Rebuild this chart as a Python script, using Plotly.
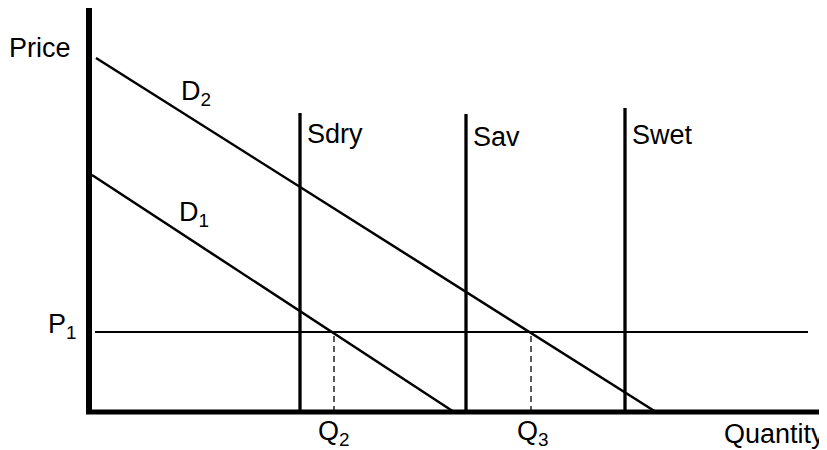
import plotly.graph_objects as go

# Conceptual supply/demand diagram (units: quantity on x, price on y)
d1_q = [3, 365]
d1_p = [237, 0]
d2_q = [7, 567]
d2_p = [354, 0]

supply_names = ["Sdry", "Sav", "Swet"]
supply_q = [211, 377, 536]
supply_top = [299, 298, 304]

p1_level = 80
p1_q = [6, 719]

q_marks = [245, 442]
q_labels = ["Q<sub>2</sub>", "Q<sub>3</sub>"]

axis_x_max = 738
axis_y_max = 404

fig = go.Figure()

# axes
fig.add_trace(go.Scatter(x=[0, 0], y=[-2, axis_y_max], mode="lines",
                         line=dict(color="black", width=6), hoverinfo="skip"))
fig.add_trace(go.Scatter(x=[-3, axis_x_max], y=[0, 0], mode="lines",
                         line=dict(color="black", width=5), hoverinfo="skip"))

# P1 line
fig.add_trace(go.Scatter(x=p1_q, y=[p1_level, p1_level], mode="lines",
                         line=dict(color="black", width=2), hoverinfo="skip"))

# dashed drops
for q in q_marks:
    fig.add_trace(go.Scatter(x=[q, q], y=[0, p1_level], mode="lines",
                             line=dict(color="black", width=1.3, dash="6px,4px"), hoverinfo="skip"))

# demand
fig.add_trace(go.Scatter(x=d1_q, y=d1_p, mode="lines",
                         line=dict(color="black", width=2.5), hoverinfo="skip"))
fig.add_trace(go.Scatter(x=d2_q, y=d2_p, mode="lines",
                         line=dict(color="black", width=2.5), hoverinfo="skip"))

# supply
for q, top in zip(supply_q, supply_top):
    fig.add_trace(go.Scatter(x=[q, q], y=[0, top], mode="lines",
                             line=dict(color="black", width=3.3), hoverinfo="skip"))

font = dict(family="Arial, Liberation Sans, sans-serif", size=27, color="black")

def label(text, x, y, xanchor="left", xshift=0):
    fig.add_annotation(x=x, y=y, text=text, showarrow=False, xanchor=xanchor,
                       yanchor="middle", font=font, xref="x", yref="y", xshift=xshift)

label("Price", -80, 364, xshift=-2)
label("Quantity", 633, -22)
label("P<sub>1</sub>", -43, 86)
label("D<sub>2</sub>", 90, 319)
label("D<sub>1</sub>", 88, 198)
for name, q, yy in zip(supply_names, supply_q, [278, 275, 277]):
    label(name, q + 5, yy)
for txt, q, xoff in zip(q_labels, q_marks, [-18, -16]):
    label(txt, q + xoff, -21)

# page body has an 8px margin, so the figure covers window pixels 8..827 x 8..450
fig.update_layout(
    width=819, height=442,
    margin=dict(l=0, r=0, t=0, b=0),
    paper_bgcolor="white", plot_bgcolor="white",
    showlegend=False,
    xaxis=dict(range=[-81, 738], visible=False, fixedrange=True),
    yaxis=dict(range=[-38, 404], visible=False, fixedrange=True),
)

fig.write_html("out.html")
